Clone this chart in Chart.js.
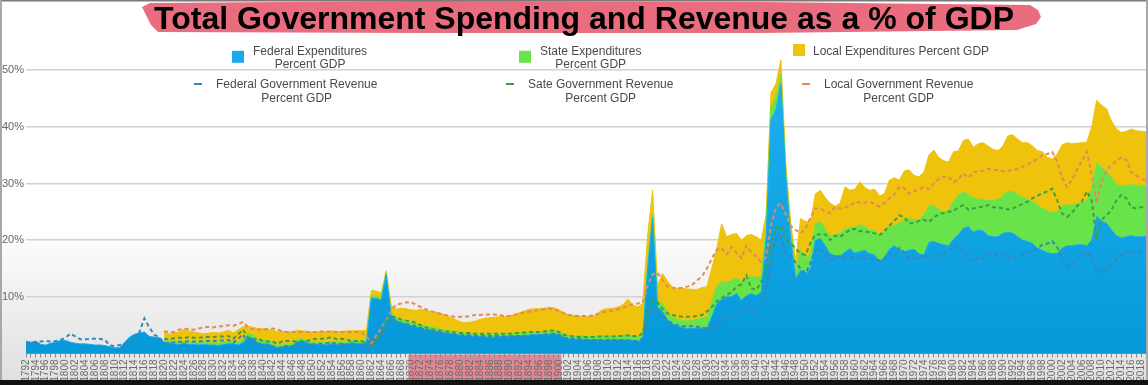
<!DOCTYPE html>
<html>
<head>
<meta charset="utf-8">
<title>Total Government Spending and Revenue as a % of GDP</title>
<script src="https://cdn.jsdelivr.net/npm/chart.js@4.4.1/dist/chart.umd.min.js"></script>
<style>
  html, body { margin: 0; padding: 0; background: #fff; }
  #wrap { position: relative; width: 1148px; height: 385px; }
</style>
</head>
<body>
<div id="wrap"><canvas id="chart"></canvas></div>
<script>
/* ---- DATA ---- */
const years = [];
for (let y = 1792; y <= 2019; y++) years.push(y);

// state and local series start in 1820
const SUB_START = 1820;
const highlightYears = [1870, 1900];
const yTicks = [10, 20, 30, 40, 50];

// federal expenditures, % GDP, 1792-2019
const fedExp = [
  2.2, 2.0, 2.2, 1.6, 1.5, 1.8, 2.0, 2.3,
  2.3, 2.0, 1.8, 1.7, 1.7, 1.6, 1.5, 1.5, 1.4, 1.2,
  1.0, 1.0, 2.0, 2.9, 3.4, 3.6, 3.8, 3.0, 2.9, 2.8,
  2.0, 1.9, 1.7, 1.6, 1.8, 1.6, 1.6, 1.5, 1.6, 1.5,
  1.5, 1.4, 1.6, 1.7, 1.7, 1.5, 1.9, 2.9, 2.7, 1.9,
  1.7, 1.7, 1.4, 1.0, 1.2, 1.3, 1.4, 2.1, 2.2, 1.9,
  1.6, 1.6, 1.6, 1.5, 1.7, 1.6, 1.7, 1.7, 1.9, 1.8,
  1.7, 2.0, 9.8, 9.7, 9.4, 13.9, 6.9, 5.8, 5.5, 5.2,
  4.9, 4.7, 4.5, 4.3, 4.2, 4.0, 3.8, 3.6, 3.5, 3.4,
  3.2, 3.2, 3.1, 3.0, 3.0, 2.9, 2.9, 2.9, 3.0, 3.0,
  3.1, 3.1, 3.1, 3.2, 3.2, 3.3, 3.3, 3.4, 3.4, 3.5,
  3.3, 2.9, 2.6, 2.5, 2.5, 2.5, 2.4, 2.4, 2.4, 2.4,
  2.4, 2.4, 2.4, 2.4, 2.4, 2.3, 2.1, 2.5, 15.0, 24.0,
  8.2, 7.4, 6.0, 5.2, 4.8, 4.6, 4.4, 4.4, 4.4, 4.5,
  4.4, 6.5, 8.8, 9.6, 10.0, 10.0, 10.6, 9.4, 10.2, 10.6,
  10.2, 10.8, 20.0, 41.2, 43.0, 47.6, 31.0, 20.0, 13.2, 14.7,
  14.0, 15.0, 20.0, 20.3, 19.0, 17.6, 17.3, 17.2, 17.9, 18.5,
  17.7, 18.0, 18.2, 17.6, 17.4, 16.2, 17.0, 18.4, 19.0, 18.4,
  18.0, 18.2, 18.4, 17.6, 17.4, 19.6, 19.8, 19.4, 19.2, 19.0,
  20.2, 21.0, 22.1, 22.4, 21.4, 21.8, 21.6, 20.8, 20.6, 20.6,
  21.2, 21.4, 21.2, 20.6, 20.0, 19.8, 19.4, 18.6, 18.2, 17.8,
  17.6, 17.7, 18.6, 19.0, 19.0, 19.2, 19.2, 19.0, 20.0, 24.2,
  23.4, 23.0, 21.8, 20.8, 20.4, 20.6, 20.8, 20.6, 20.6, 20.7
];

// state expenditures, % GDP, 1820-2019
const stateExp = [
  0.4, 0.4, 0.4, 0.4, 0.4, 0.4, 0.4, 0.4, 0.4, 0.4,
  0.4, 0.4, 0.4, 0.4, 0.4, 0.4, 0.6, 0.6, 0.6, 0.6,
  0.6, 0.6, 0.6, 0.4, 0.4, 0.4, 0.4, 0.4, 0.4, 0.4,
  0.4, 0.4, 0.4, 0.4, 0.4, 0.4, 0.4, 0.4, 0.4, 0.4,
  0.4, 0.4, 0.4, 0.4, 0.4, 0.3, 0.5, 0.5, 0.5, 0.5,
  0.5, 0.5, 0.5, 0.5, 0.5, 0.5, 0.5, 0.5, 0.5, 0.5,
  0.5, 0.4, 0.4, 0.4, 0.4, 0.4, 0.4, 0.4, 0.4, 0.4,
  0.4, 0.5, 0.5, 0.5, 0.5, 0.5, 0.5, 0.5, 0.5, 0.5,
  0.5, 0.5, 0.6, 0.6, 0.6, 0.6, 0.6, 0.6, 0.7, 0.7,
  0.7, 0.7, 0.7, 0.8, 0.8, 0.8, 0.8, 0.8, 1.0, 0.6,
  1.2, 1.4, 1.3, 1.2, 1.2, 1.2, 1.3, 1.4, 1.6, 1.7,
  2.0, 2.6, 3.0, 3.0, 2.6, 2.8, 2.8, 3.2, 3.0, 3.0,
  3.2, 2.8, 2.0, 2.3, 2.2, 1.6, 1.0, 1.5, 1.5, 3.5,
  2.8, 2.5, 2.9, 2.9, 3.0, 3.0, 3.7, 4.0, 4.1, 3.7,
  4.6, 4.7, 4.2, 4.2, 4.2, 4.7, 4.4, 4.0, 3.6, 4.6,
  5.6, 5.6, 5.2, 6.0, 7.0, 6.4, 6.4, 6.0, 5.8, 6.2,
  6.6, 7.0, 6.5, 5.6, 6.0, 5.4, 5.6, 6.2, 6.4, 6.6,
  6.6, 7.2, 7.4, 7.4, 7.6, 7.4, 7.4, 7.6, 7.4, 7.4,
  7.2, 7.3, 7.4, 7.2, 7.2, 7.2, 7.4, 8.0, 9.0, 9.4,
  9.4, 9.2, 9.2, 9.0, 9.1, 9.0, 9.0, 9.1, 9.0, 8.8
];

// local expenditures, % GDP, 1820-2019
const localExp = [
  1.6, 1.1, 1.5, 1.8, 2.0, 2.0, 1.8, 1.7, 1.5, 1.7,
  1.8, 1.8, 1.8, 2.0, 1.5, 2.3, 2.2, 1.3, 1.3, 1.9,
  2.1, 2.0, 2.1, 2.4, 2.3, 2.1, 2.0, 1.6, 1.4, 1.6,
  1.8, 1.8, 1.9, 1.9, 1.9, 1.9, 1.8, 1.9, 1.7, 1.8,
  1.9, 1.7, 0.9, 0.9, 0.9, 0.4, 1.1, 1.5, 2.0, 2.2,
  2.3, 2.4, 2.8, 2.8, 2.7, 2.8, 2.8, 2.7, 2.4, 2.1,
  1.9, 1.8, 2.0, 2.3, 2.6, 2.9, 3.0, 3.1, 3.1, 3.1,
  3.1, 3.3, 3.6, 3.8, 4.1, 4.1, 4.1, 4.1, 4.2, 4.1,
  3.9, 3.8, 3.6, 3.6, 3.5, 3.4, 3.5, 3.6, 4.1, 4.7,
  4.8, 4.9, 5.1, 5.4, 6.4, 5.4, 5.3, 5.5, 5.0, 4.2,
  2.6, 5.3, 5.5, 5.3, 5.5, 5.7, 5.7, 5.5, 5.3, 5.4,
  5.4, 5.9, 6.7, 10.3, 8.0, 8.2, 7.8, 7.4, 7.6, 7.4,
  7.2, 6.4, 2.5, 2.5, 2.4, 2.6, 1.5, 1.5, 1.8, 5.6,
  6.5, 5.7, 5.3, 5.6, 5.5, 5.9, 5.0, 5.3, 7.4, 6.6,
  6.7, 7.6, 6.9, 7.0, 7.4, 6.9, 6.8, 8.2, 8.4, 7.6,
  8.6, 8.6, 7.8, 7.6, 7.6, 9.0, 9.7, 9.2, 9.0, 8.6,
  8.8, 7.8, 9.0, 9.8, 9.0, 9.8, 10.0, 9.6, 9.0, 8.6,
  8.8, 9.8, 10.0, 9.8, 9.6, 10.0, 9.8, 9.6, 10.0, 9.4,
  9.5, 10.2, 10.8, 11.0, 10.8, 10.7, 10.6, 10.3, 11.0, 11.1,
  11.0, 11.0, 10.0, 9.8, 9.5, 9.6, 9.8, 9.6, 9.6, 9.6
];

// federal revenue, % GDP, 1792-2019
const fedRev = [
  1.5, 1.8, 2.0, 2.1, 2.2, 2.1, 2.2, 2.4,
  2.8, 3.5, 3.0, 2.5, 2.5, 2.6, 2.6, 2.6, 2.4, 1.4,
  1.3, 1.5, 1.6, 1.5, 2.0, 3.8, 6.2, 4.6, 3.3, 2.9,
  1.8, 1.7, 2.0, 2.1, 2.0, 2.2, 2.1, 2.1, 2.2, 2.2,
  2.2, 2.3, 2.3, 2.4, 1.9, 2.6, 3.4, 1.6, 1.7, 1.9,
  1.3, 1.2, 1.2, 0.8, 1.3, 1.3, 1.3, 1.1, 1.3, 1.3,
  1.6, 1.7, 1.7, 1.8, 2.0, 1.6, 1.7, 1.6, 1.2, 1.3,
  1.3, 1.1, 0.9, 2.0, 3.2, 5.0, 6.0, 5.8, 5.3, 5.2,
  5.1, 4.8, 4.5, 4.1, 3.8, 3.7, 3.6, 3.5, 3.4, 3.3,
  3.2, 3.2, 3.2, 3.1, 3.1, 3.1, 3.1, 3.1, 3.1, 3.0,
  3.0, 3.1, 3.1, 3.1, 3.2, 3.2, 3.2, 3.3, 3.4, 3.5,
  3.3, 2.8, 2.6, 2.6, 2.5, 2.5, 2.4, 2.4, 2.4, 2.4,
  2.4, 2.4, 2.4, 2.3, 2.3, 2.2, 2.2, 2.6, 5.9, 8.0,
  7.3, 6.5, 5.9, 5.2, 5.0, 4.8, 4.8, 4.8, 4.7, 4.6,
  4.4, 4.2, 5.0, 6.0, 6.2, 6.6, 6.8, 7.4, 8.3, 7.6,
  7.1, 8.6, 11.0, 16.0, 20.6, 20.4, 17.8, 17.1, 16.0, 15.0,
  14.1, 16.0, 18.3, 18.3, 17.8, 16.5, 17.0, 17.1, 17.0, 16.8,
  17.2, 17.0, 16.8, 16.8, 16.6, 16.4, 16.8, 17.6, 17.0, 18.6,
  17.8, 16.6, 16.8, 16.8, 17.4, 17.0, 16.6, 17.4, 17.6, 18.2,
  18.6, 19.0, 18.2, 16.6, 16.4, 16.8, 16.8, 17.6, 17.4, 17.6,
  17.2, 17.0, 16.8, 17.0, 17.4, 17.8, 18.0, 18.6, 19.2, 19.4,
  19.8, 18.8, 16.6, 15.6, 15.3, 16.4, 17.4, 17.8, 17.0, 14.6,
  14.4, 15.0, 15.4, 16.6, 17.4, 18.0, 17.8, 17.8, 18.0, 18.2
];

// state revenue, % GDP, 1820-2019
const stateRev = [
  0.8, 0.8, 0.7, 0.7, 0.7, 0.7, 0.7, 0.7, 0.7, 0.7,
  0.7, 0.7, 0.7, 0.7, 0.7, 0.8, 0.8, 1.2, 0.8, 0.8,
  0.9, 0.9, 0.9, 0.9, 0.9, 0.9, 0.9, 0.9, 0.9, 0.9,
  0.9, 0.9, 0.9, 0.9, 0.9, 0.9, 0.9, 0.9, 0.9, 0.9,
  0.9, 0.7, 0.3, 0.4, 0.4, 0.6, 0.5, 0.6, 0.7, 0.6,
  0.6, 0.6, 0.5, 0.5, 0.5, 0.5, 0.4, 0.4, 0.4, 0.4,
  0.4, 0.4, 0.4, 0.4, 0.4, 0.4, 0.4, 0.4, 0.4, 0.5,
  0.5, 0.5, 0.5, 0.6, 0.6, 0.6, 0.6, 0.6, 0.6, 0.6,
  0.5, 0.5, 0.5, 0.4, 0.4, 0.4, 0.5, 0.5, 0.6, 0.6,
  0.6, 0.6, 0.7, 0.8, 0.9, 0.9, 0.8, 1.0, 1.2, 1.3,
  1.7, 1.4, 1.2, 1.6, 1.6, 1.7, 1.7, 1.7, 1.9, 2.2,
  3.0, 4.0, 4.2, 3.8, 4.1, 4.2, 5.0, 4.8, 5.5, 3.9,
  4.1, 3.9, 3.5, 3.0, 1.6, 2.0, 2.2, 2.3, 2.5, 2.6,
  3.3, 3.5, 2.7, 2.7, 3.2, 3.5, 3.8, 3.5, 4.2, 5.0,
  4.8, 4.6, 4.7, 4.6, 4.6, 4.5, 4.8, 5.0, 6.4, 5.8,
  6.2, 6.4, 6.2, 6.6, 6.2, 6.2, 7.4, 7.2, 7.2, 6.8,
  6.6, 6.8, 8.0, 8.8, 9.2, 9.0, 9.1, 8.6, 8.4, 8.2,
  8.4, 8.4, 8.8, 9.0, 9.0, 9.0, 9.4, 9.2, 9.1, 9.2,
  9.3, 8.2, 8.1, 8.5, 9.5, 9.6, 9.4, 10.8, 10.0, 5.4,
  9.2, 9.4, 9.9, 10.4, 10.6, 9.4, 8.0, 7.8, 7.8, 7.7
];

// local revenue, % GDP, 1820-2019
const localRev = [
  1.3, 1.3, 1.1, 1.4, 1.7, 1.4, 1.4, 1.6, 1.7, 1.8,
  1.7, 1.8, 1.8, 1.9, 2.3, 1.8, 1.4, 1.8, 1.8, 1.5,
  2.0, 2.2, 2.3, 2.5, 1.7, 1.6, 1.6, 1.8, 1.6, 1.6,
  1.3, 1.2, 1.3, 1.2, 0.9, 1.3, 1.2, 1.3, 1.7, 1.6,
  1.6, 1.2, 0.6, 0.8, 0.9, 0.2, 1.0, 2.2, 2.8, 3.2,
  3.4, 3.2, 3.2, 3.2, 3.2, 3.0, 3.0, 2.9, 2.8, 2.8,
  2.9, 2.9, 3.0, 3.3, 3.3, 3.4, 3.4, 3.4, 3.3, 3.1,
  3.1, 3.2, 3.4, 3.5, 3.6, 3.7, 3.9, 3.9, 3.9, 3.7,
  3.7, 3.8, 3.7, 3.7, 3.7, 3.7, 3.7, 3.8, 4.0, 4.3,
  4.4, 4.6, 4.7, 5.0, 5.2, 5.6, 5.8, 5.4, 4.9, 4.7,
  5.2, 5.1, 4.7, 4.8, 4.9, 5.1, 5.3, 5.6, 6.3, 6.8,
  7.6, 8.6, 9.1, 8.8, 7.2, 8.0, 6.0, 4.6, 5.2, 6.3,
  5.9, 3.7, 2.5, 3.5, 3.6, 4.1, 4.5, 3.1, 3.3, 3.6,
  4.6, 4.5, 4.6, 4.6, 4.0, 4.8, 5.1, 5.0, 4.6, 4.2,
  4.8, 5.0, 5.1, 5.4, 5.2, 5.0, 5.0, 4.8, 4.6, 5.0,
  5.2, 5.2, 5.6, 5.6, 5.8, 5.8, 6.0, 6.2, 6.4, 6.2,
  5.0, 5.0, 5.6, 5.6, 6.4, 6.4, 6.3, 6.4, 6.6, 6.6,
  6.6, 6.8, 6.8, 6.6, 6.6, 6.6, 6.4, 6.6, 6.7, 6.6,
  6.5, 6.8, 6.3, 5.3, 5.8, 6.4, 7.2, 7.0, 4.5, 6.5,
  6.9, 8.0, 7.9, 7.0, 6.6, 6.8, 6.2, 5.8, 5.0, 4.7
];

/* ---- COLOURS ---- */
const C_FED = '#1aa9ec';
const C_STATE = '#68e34a';
const C_LOCAL = '#efc20c';
const C_FED_REV = '#3a86b6';
const C_STATE_REV = '#3f9f46';
const C_LOCAL_REV = '#e4895a';
const FONT = '"Liberation Sans", Arial, Helvetica, sans-serif';

/* ---- HELPERS ---- */
function fromYear(start, arr) {
  return years.map(y => (y < start ? null : arr[y - start]));
}

function blueFill(ctx) {
  const area = ctx.chart.chartArea;
  if (!area) return C_FED;
  const g = ctx.chart.ctx.createLinearGradient(0, area.top + 40, 0, area.bottom);
  g.addColorStop(0, '#20b2f4');
  g.addColorStop(1, '#0699d9');
  return g;
}

/* ---- PLUGINS ---- */
const backdrop = {
  id: 'backdrop',
  beforeDraw(chart) {
    const { ctx, width, height, chartArea, scales } = chart;
    ctx.save();
    const g = ctx.createLinearGradient(0, 225, 0, 380);
    g.addColorStop(0, '#ffffff');
    g.addColorStop(1, '#e0e0e0');
    ctx.fillStyle = g;
    ctx.fillRect(0, 0, width, height);

    // highlighted span of years under the axis
    const x = scales.x;
    const step = x.getPixelForValue(1) - x.getPixelForValue(0);
    const x0 = x.getPixelForValue(years.indexOf(highlightYears[0])) - step / 2;
    const x1 = x.getPixelForValue(years.indexOf(highlightYears[1])) + step / 2;
    ctx.fillStyle = '#dd8896';
    ctx.fillRect(x0, chartArea.bottom + 1, x1 - x0, height - chartArea.bottom);
    ctx.restore();
  }
};

// legend: icon left x, row, gap to text
const legendLayout = [
  { x: 232, row: 0, gap: 9 },
  { x: 519, row: 0, gap: 9 },
  { x: 793, row: 0, gap: 8 },
  { x: 194, row: 1, gap: 14 },
  { x: 506, row: 1, gap: 14 },
  { x: 802, row: 1, gap: 14 }
];
const legendBaselines = [54.5, 88];

const legendBox = {
  id: 'legendBox',
  afterDraw(chart) {
    const { ctx } = chart;
    ctx.save();
    ctx.font = '12px ' + FONT;
    ctx.textBaseline = 'alphabetic';
    chart.data.datasets.forEach((ds, i) => {
      const spot = legendLayout[i];
      const lines = ds.label.split('\n');
      const base = legendBaselines[spot.row];
      const lineH = 13.6;
      const isBox = ds.fill !== false;
      const iconW = isBox ? 12 : 8;
      const blockW = Math.max(...lines.map(l => ctx.measureText(l).width));
      const left = spot.x + iconW + spot.gap;

      ctx.fillStyle = '#4a4a4a';
      ctx.textAlign = 'center';
      lines.forEach((l, j) => ctx.fillText(l, left + blockW / 2, base + j * lineH));

      if (isBox) {
        const mid = (base - 9 + base + (lines.length - 1) * lineH) / 2;
        ctx.fillStyle = ds.legendColor;
        ctx.fillRect(spot.x, mid - 6, 12, 12);
      } else {
        ctx.fillStyle = ds.borderColor;
        ctx.fillRect(spot.x, base - 5, 8, 2);
      }
    });
    ctx.restore();
  }
};

const frame = {
  id: 'frame',
  afterDraw(chart) {
    const { ctx, width, height } = chart;
    ctx.save();
    // brush-stroke banner behind the title
    ctx.fillStyle = '#ea6d7f';
    ctx.beginPath();
    [[150, 3], [420, 1], [760, 2], [1030, 5], [1038, 10], [1041, 17], [1036, 24],
     [1017, 30], [760, 33], [420, 33], [158, 32], [151, 25], [146, 15], [142, 7]]
      .forEach(([px, py], k) => (k ? ctx.lineTo(px, py) : ctx.moveTo(px, py)));
    ctx.closePath();
    ctx.fill();

    ctx.fillStyle = '#000';
    ctx.font = 'bold 32px ' + FONT;
    ctx.textAlign = 'center';
    ctx.textBaseline = 'alphabetic';
    ctx.fillText('Total Government Spending and Revenue as a % of GDP', 584, 28.5);

    // video frame edges
    ctx.fillStyle = '#7a7a7a';
    ctx.fillRect(0, 0, width, 1.5);
    ctx.fillStyle = '#a8a8a8';
    ctx.fillRect(0, 0, 2, height);
    ctx.fillRect(width - 2, 0, 2, height);
    ctx.fillStyle = '#121212';
    ctx.fillRect(0, 380, width, height - 380);
    ctx.restore();
  }
};

/* ---- CHART ---- */
const area = (label, data, color, fill, bg) => ({
  label, data, fill, stack: 'exp', order: 1,
  backgroundColor: bg || color, borderColor: color, borderWidth: 1,
  legendColor: color, pointRadius: 0
});
const revLine = (label, data, color) => ({
  label, data, fill: false, stack: 'rev', order: 0,
  borderColor: color, borderWidth: 2, borderDash: [4, 3], pointRadius: 0
});

new Chart(document.getElementById('chart'), {
  type: 'line',
  data: {
    labels: years,
    datasets: [
      area('Federal Expenditures\nPercent GDP', fedExp, C_FED, 'origin', blueFill),
      area('State Expenditures\nPercent GDP', fromYear(SUB_START, stateExp), C_STATE, '-1'),
      area('Local Expenditures Percent GDP', fromYear(SUB_START, localExp), C_LOCAL, '-1'),
      revLine('Federal Government Revenue\nPercent GDP', fedRev, C_FED_REV),
      revLine('Sate Government Revenue\nPercent GDP', fromYear(SUB_START, stateRev), C_STATE_REV),
      revLine('Local Government Revenue\nPercent GDP', fromYear(SUB_START, localRev), C_LOCAL_REV)
    ]
  },
  options: {
    responsive: true,
    maintainAspectRatio: false,
    devicePixelRatio: 1,
    animation: false,
    events: [],
    layout: { padding: { top: 13.5, right: 2, bottom: 0, left: 0 } },
    elements: { line: { tension: 0 }, point: { radius: 0 } },
    plugins: {
      legend: { display: false },
      tooltip: { enabled: false }
    },
    scales: {
      x: {
        offset: false,
        grid: { drawOnChartArea: false, drawTicks: true, tickLength: 4, color: '#8a8a8a' },
        border: { display: true, color: '#8a8a8a' },
        ticks: {
          autoSkip: false, maxRotation: 90, minRotation: 90, padding: 2,
          color: '#6a6a6a', font: { size: 10, family: FONT },
          callback: (v, i) => (years[i] % 2 === 0 ? String(years[i]) : '')
        },
        afterFit: s => { s.height = 31.5; s.paddingLeft = 0; s.paddingRight = 0; }
      },
      y: {
        stacked: true,
        min: 0,
        max: 60,
        border: { display: false },
        grid: { color: '#d2d2d2', lineWidth: 1.5, drawTicks: false },
        ticks: {
          padding: 2, color: '#666', font: { size: 11, family: FONT },
          callback: v => v + '%'
        },
        afterBuildTicks: s => { s.ticks = yTicks.map(v => ({ value: v })); },
        afterFit: s => { s.width = 26; s.paddingTop = 0; s.paddingBottom = 0; }
      }
    }
  },
  plugins: [backdrop, legendBox, frame]
});
</script>
</body>
</html>
